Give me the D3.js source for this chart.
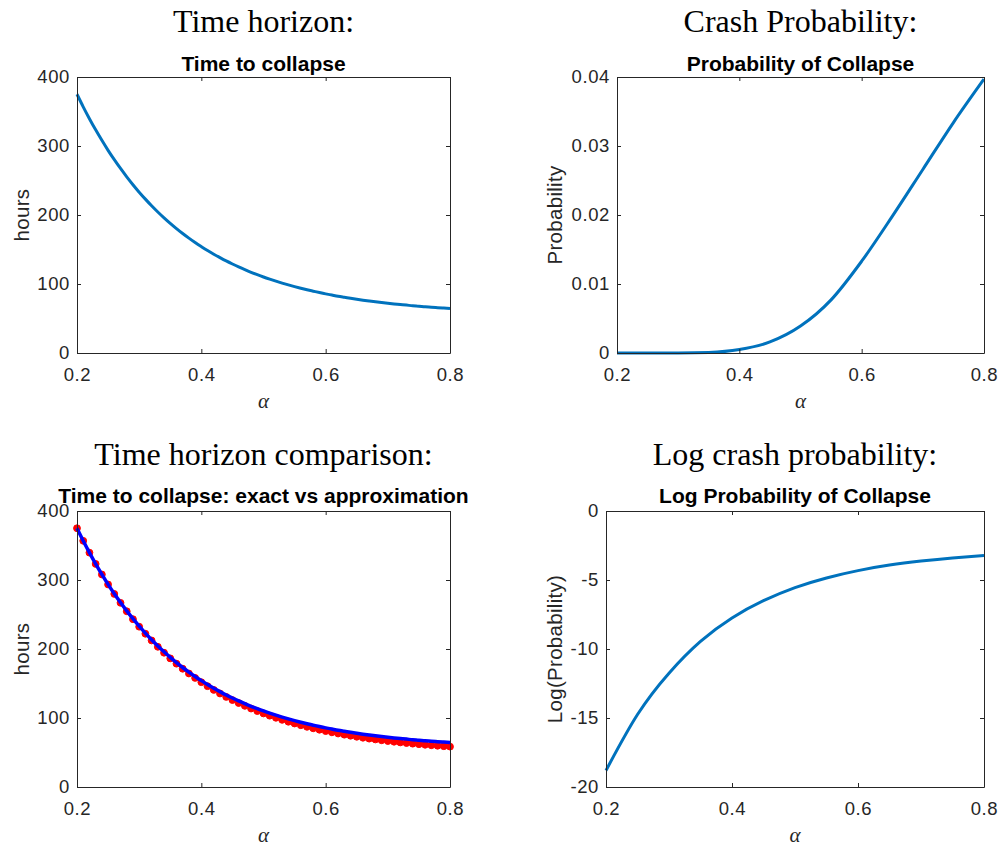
<!DOCTYPE html>
<html>
<head>
<meta charset="utf-8">
<script src="https://cdn.jsdelivr.net/npm/d3@7"></script>
<style>
  html, body { margin: 0; padding: 0; background: #fff; }
  svg { display: block; }
</style>
</head>
<body>
<script>
// ---------------- data ----------------
const alphaFine = [0.20,0.21,0.22,0.23,0.24,0.25,0.26,0.27,0.28,0.29,0.30,0.31,0.32,0.33,0.34,0.35,0.36,0.37,0.38,0.39,0.40,0.41,0.42,0.43,0.44,0.45,0.46,0.47,0.48,0.49,0.50,0.51,0.52,0.53,0.54,0.55,0.56,0.57,0.58,0.59,0.60,0.61,0.62,0.63,0.64,0.65,0.66,0.67,0.68,0.69,0.70,0.71,0.72,0.73,0.74,0.75,0.76,0.77,0.78,0.79,0.80];
const timeExact = [375.0,356.8,339.6,323.4,308.2,293.7,280.2,267.4,255.3,243.9,233.1,223.0,213.4,204.4,195.9,187.9,180.3,173.2,166.5,160.1,154.2,148.5,143.2,138.2,133.4,129.0,124.8,120.8,117.0,113.5,110.2,107.1,104.1,101.3,98.7,96.2,93.8,91.6,89.6,87.6,85.7,84.0,82.3,80.8,79.3,77.9,76.6,75.4,74.2,73.1,72.1,71.1,70.2,69.4,68.5,67.8,67.0,66.4,65.7,65.1,64.5];
const timeApprox = [375.0,356.8,339.6,323.3,308.0,293.5,279.8,266.9,254.7,243.2,232.3,222.1,212.4,203.2,194.6,186.4,178.7,171.4,164.5,158.1,151.9,146.1,140.7,135.5,130.6,126.0,121.7,117.6,113.7,110.0,106.6,103.3,100.3,97.3,94.6,92.0,89.5,87.2,85.0,83.0,81.0,79.2,77.5,75.8,74.3,72.8,71.4,70.1,68.9,67.7,66.6,65.6,64.6,63.7,62.8,62.0,61.2,60.5,59.8,59.1,58.5];
const alphaCoarse = [0.20,0.25,0.30,0.35,0.40,0.45,0.50,0.55,0.60,0.65,0.70,0.75,0.80];
const probCollapse = [0.0000000068,0.00000041,0.0000075,0.000083,0.00050,0.00160,0.0039,0.0077,0.0133,0.0198,0.0266,0.0334,0.0397];
const logProbCollapse = [-18.8,-14.75,-11.75,-9.45,-7.75,-6.5,-5.55,-4.85,-4.32,-3.92,-3.63,-3.40,-3.22];

const xTicks = [0.2,0.4,0.6,0.8];
const timeTicks = [0,100,200,300,400];
const probTicks = [0,0.01,0.02,0.03,0.04];
const logTicks = [-20,-15,-10,-5,0];

// ---------------- layout ----------------
const W = 1003, H = 847;
const svg = d3.select("body").append("svg").attr("width", W).attr("height", H);

const AX = "#262626";
const SANS = "'Liberation Sans', Arial, Helvetica, sans-serif";
const SERIF = "'Liberation Serif', 'Times New Roman', serif";

function panel(cfg) {
  const {x0, x1, y0, y1} = cfg;
  const xs = d3.scaleLinear().domain([0.2, 0.8]).range([x0, x1]);
  const ys = d3.scaleLinear().domain(cfg.yDomain).range([y1, y0]);
  const g = svg.append("g");

  svg.append("text")
    .attr("x", (x0 + x1) / 2).attr("y", cfg.headY)
    .attr("text-anchor", "middle")
    .style("font-family", SERIF).style("font-size", "32px").attr("fill", "#000")
    .text(cfg.heading);

  svg.append("text")
    .attr("x", (x0 + x1) / 2).attr("y", y0 - cfg.titleGap)
    .attr("text-anchor", "middle")
    .style("font-family", SANS).style("font-size", "21px").style("font-weight", "bold")
    .attr("fill", "#000")
    .text(cfg.title);

  cfg.draw(g, xs, ys);

  const fmt = cfg.yFormat;
  const axB = g.append("g").attr("transform", `translate(0,${y1})`)
    .call(d3.axisBottom(xs).tickValues(xTicks).tickSizeInner(-4).tickSizeOuter(0).tickPadding(15).tickFormat(d => String(d)));
  const axT = g.append("g").attr("transform", `translate(0,${y0})`)
    .call(d3.axisTop(xs).tickValues(xTicks).tickSizeInner(-4).tickSizeOuter(0).tickFormat(""));
  const axL = g.append("g").attr("transform", `translate(${x0},0)`)
    .call(d3.axisLeft(ys).tickValues(cfg.yTicks).tickSizeInner(-4).tickSizeOuter(0).tickPadding(7).tickFormat(fmt));
  const axR = g.append("g").attr("transform", `translate(${x1},0)`)
    .call(d3.axisRight(ys).tickValues(cfg.yTicks).tickSizeInner(-4).tickSizeOuter(0).tickFormat(""));
  [axB, axT, axL, axR].forEach(a => {
    a.selectAll("path.domain").attr("stroke", AX).attr("stroke-width", 1);
    a.selectAll(".tick line").attr("stroke", AX).attr("stroke-width", 1);
    a.selectAll("text").attr("fill", AX)
      .style("font-family", SANS).style("font-size", "18.5px").style("letter-spacing", "0.6px");
  });

  svg.append("text")
    .attr("x", (x0 + x1) / 2).attr("y", y1 + 55)
    .attr("text-anchor", "middle")
    .style("font-family", SERIF).style("font-style", "italic").style("font-size", "21px")
    .attr("fill", AX)
    .text("α");

  svg.append("text")
    .attr("transform", `translate(${cfg.yLabelX},${(y0 + y1) / 2}) rotate(-90)`)
    .attr("text-anchor", "middle")
    .style("font-family", SANS).style("font-size", "20.5px").style("letter-spacing", "0.3px")
    .attr("fill", AX)
    .text(cfg.yLabel);
}

const curveBlue = "#0072BD";

panel({
  x0: 77, x1: 450, y0: 77, y1: 353,
  yDomain: [0, 400], yTicks: timeTicks, yFormat: d => String(d),
  heading: "Time horizon:", headY: 32,
  title: "Time to collapse", titleGap: 6,
  yLabel: "hours", yLabelX: 29,
  draw: (g, xs, ys) => {
    const line = d3.line().x((d, i) => xs(alphaFine[i])).y(d => ys(d)).curve(d3.curveNatural);
    g.append("path").attr("d", line(timeExact)).attr("fill", "none")
      .attr("stroke", curveBlue).attr("stroke-width", 3);
  }
});

panel({
  x0: 617, x1: 984, y0: 77, y1: 353,
  yDomain: [0, 0.04], yTicks: probTicks, yFormat: d => String(d),
  heading: "Crash Probability:", headY: 32,
  title: "Probability of Collapse", titleGap: 6,
  yLabel: "Probability", yLabelX: 562,
  draw: (g, xs, ys) => {
    const line = d3.line().x((d, i) => xs(alphaCoarse[i])).y(d => ys(d)).curve(d3.curveMonotoneX);
    g.append("path").attr("d", line(probCollapse)).attr("fill", "none")
      .attr("stroke", curveBlue).attr("stroke-width", 3);
  }
});

panel({
  x0: 77, x1: 450, y0: 511, y1: 787,
  yDomain: [0, 400], yTicks: timeTicks, yFormat: d => String(d),
  heading: "Time horizon comparison:", headY: 465,
  title: "Time to collapse: exact vs approximation", titleGap: 8,
  yLabel: "hours", yLabelX: 29,
  draw: (g, xs, ys) => {
    g.selectAll("circle.approx").data(timeApprox).enter().append("circle")
      .attr("cx", (d, i) => xs(alphaFine[i])).attr("cy", d => ys(d)).attr("r", 3.4)
      .attr("fill", "#FF0000").attr("stroke", "#FF0000").attr("stroke-width", 1);
    const line = d3.line().x((d, i) => xs(alphaFine[i])).y(d => ys(d)).curve(d3.curveNatural);
    g.append("path").attr("d", line(timeExact)).attr("fill", "none")
      .attr("stroke", "#0000FF").attr("stroke-width", 3.5);
  }
});

panel({
  x0: 606, x1: 984, y0: 511, y1: 787,
  yDomain: [-20, 0], yTicks: logTicks, yFormat: d => String(d),
  heading: "Log crash probability:", headY: 465,
  title: "Log Probability of Collapse", titleGap: 8,
  yLabel: "Log(Probability)", yLabelX: 562,
  draw: (g, xs, ys) => {
    const line = d3.line().x((d, i) => xs(alphaCoarse[i])).y(d => ys(d)).curve(d3.curveNatural);
    g.append("path").attr("d", line(logProbCollapse)).attr("fill", "none")
      .attr("stroke", curveBlue).attr("stroke-width", 3);
  }
});
</script>
</body>
</html>
